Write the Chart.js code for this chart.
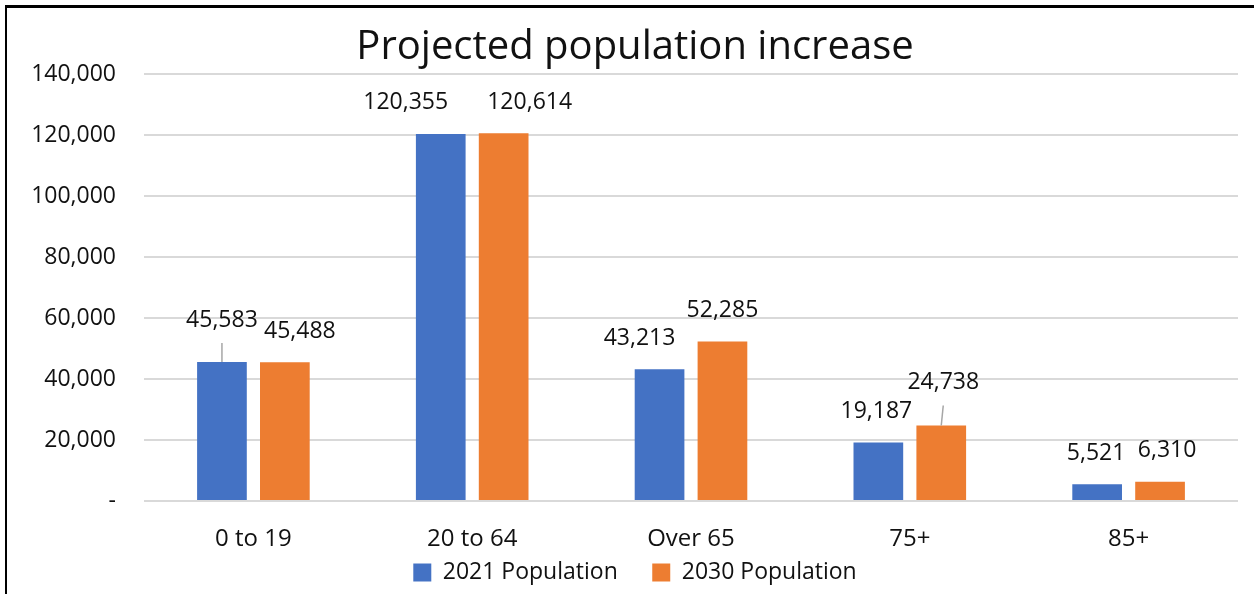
<!DOCTYPE html>
<html>
<head>
<meta charset="utf-8">
<script src="https://cdn.jsdelivr.net/npm/chart.js@4"></script>
<style>
  html, body { margin: 0; padding: 0; background: #fff; }
  #wrap { position: relative; width: 1254px; height: 594px; overflow: hidden; }
  #frame { position: absolute; left: 5px; top: 5px; width: 1260px; height: 600px;
           border-left: 2px solid #000; border-top: 3px solid #000; box-sizing: border-box; }
  canvas { position: absolute; left: 0; top: 0; }
</style>
</head>
<body>
<div id="wrap">
  <div id="frame"></div>
  <canvas id="chart" width="1254" height="594"></canvas>
</div>
<script>
// data
const categories = ['0 to 19', '20 to 64', 'Over 65', '75+', '85+'];
const pop2021 = [45583, 120355, 43213, 19187, 5521];
const pop2030 = [45488, 120614, 52285, 24738, 6310];
const yTicks = [0, 20000, 40000, 60000, 80000, 100000, 120000, 140000];

const fontFamily = "'Open Sans', 'Noto Sans', sans-serif";
const fmt = (v) => v.toLocaleString('en-US');

// label nudges (dx, dy, leader line) per dataset
const labelShift = [
    [[0, -11, true], [-35, 0], [-20, 0], [-2, 0], [-1, 0]],
    [[15, 0], [26, 0], [0, 0], [2, -12, true], [7, 0]]
];

const dataLabels = {
    id: 'dataLabels',
    afterDatasetsDraw(chart) {
        const ctx = chart.ctx;
        ctx.save();
        ctx.font = "23px " + fontFamily;
        ctx.fillStyle = '#111';
        ctx.textAlign = 'center';
        ctx.textBaseline = 'middle';
        chart.data.datasets.forEach((ds, di) => {
            const meta = chart.getDatasetMeta(di);
            meta.data.forEach((bar, i) => {
                const s = labelShift[di][i];
                const x = bar.x + s[0];
                const y = bar.y - 31 + s[1];
                if (s[2]) {
                    ctx.strokeStyle = '#a6a6a6';
                    ctx.lineWidth = 1.5;
                    ctx.beginPath();
                    ctx.moveTo(x, y + 23);
                    ctx.lineTo(bar.x, bar.y);
                    ctx.stroke();
                }
                ctx.fillText(fmt(ds.data[i]), x, y);
            });
        });
        ctx.restore();
    }
};

new Chart(document.getElementById('chart'), {
    type: 'bar',
    data: {
        labels: categories,
        datasets: [
            { label: '2021 Population', data: pop2021, backgroundColor: '#4472C4' },
            { label: '2030 Population', data: pop2030, backgroundColor: '#ED7D31' }
        ]
    },
    options: {
        responsive: false,
        animation: false,
        categoryPercentage: 0.575,
        barPercentage: 0.79,
        layout: { padding: { left: 32, right: 16, top: 24, bottom: 0 } },
        plugins: {
            title: {
                display: true,
                text: 'Projected population increase',
                color: '#111',
                font: { family: fontFamily, size: 40, weight: 'normal' },
                padding: { top: 0, bottom: 2 }
            },
            legend: {
                position: 'bottom',
                labels: {
                    color: '#111',
                    font: { family: fontFamily, size: 23 },
                    boxWidth: 18,
                    boxHeight: 18,
                    padding: 0,
                    generateLabels: (chart) => {
                        const items = Chart.defaults.plugins.legend.labels.generateLabels(chart);
                        items.forEach((it, i) => {
                            if (i < items.length - 1) it.text = it.text + '\u2003\u2002';
                        });
                        return items;
                    }
                }
            },
            tooltip: { enabled: false }
        },
        scales: {
            x: {
                grid: { display: false, drawTicks: false },
                border: { display: false },
                afterFit: (axis) => { axis.height = 60; },
                ticks: {
                    color: '#111',
                    font: { family: fontFamily, size: 24, lineHeight: 0.54 },
                    padding: 32
                }
            },
            y: {
                min: 0,
                max: 140000,
                afterBuildTicks: (axis) => { axis.ticks = yTicks.map(v => ({ value: v })); },
                afterFit: (axis) => { axis.width = 112; },
                grid: { color: '#d9d9d9', lineWidth: 2, drawTicks: false },
                border: { display: false },
                ticks: {
                    color: '#111',
                    font: { family: fontFamily, size: 23 },
                    padding: 28,
                    callback: (v) => v === 0 ? '-' : fmt(v)
                }
            }
        }
    },
    plugins: [dataLabels]
});
</script>
</body>
</html>
